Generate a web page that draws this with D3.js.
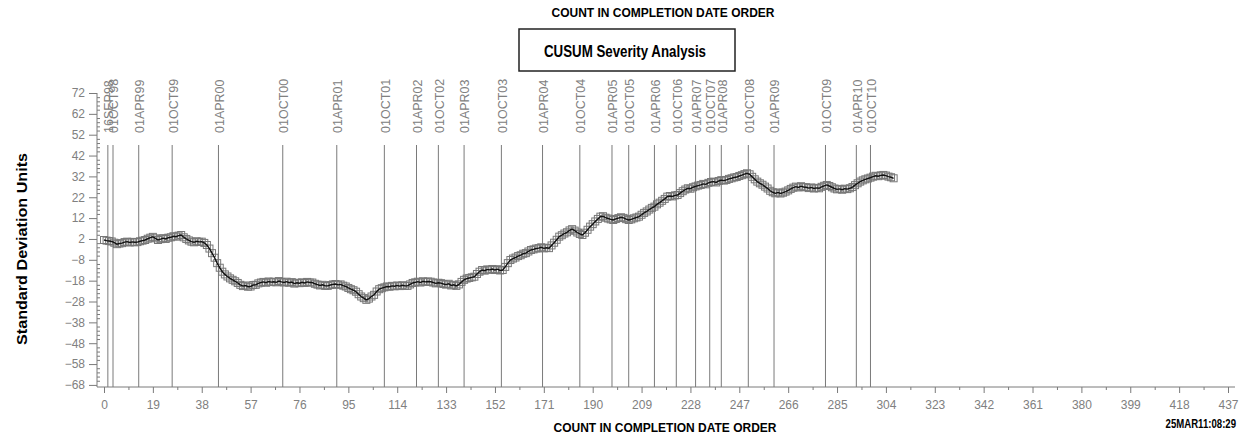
<!DOCTYPE html>
<html>
<head>
<meta charset="utf-8">
<script src="https://cdn.jsdelivr.net/npm/d3@7"></script>
<style>
body { margin: 0; background: #fff; }
</style>
</head>
<body>
<div id="chart"></div>
<script>
//Data: CUSUM value for each count (count = index)
var cusum = [
  1.5, 1.2, 1.0, 0.8, 0.2, -0.5, -0.2, 0.0, 0.5, 0.7,
  0.3, 0.6, 0.4, 0.5, 0.9, 1.2, 1.5, 2.1, 2.6, 3.0,
  2.3, 1.5, 1.9, 2.4, 2.0, 2.6, 2.8, 3.3, 3.1, 3.6,
  3.9, 2.8, 2.0, 1.3, 0.7, 0.4, 0.9, 0.6, 0.7, 0.1,
  -0.9, -2.6, -4.8, -7.0, -9.6, -11.8, -13.7, -15.0, -16.0, -16.9,
  -17.6, -18.3, -19.1, -20.0, -20.6, -20.3, -20.9, -20.8, -20.1, -20.0,
  -19.3, -18.9, -18.6, -19.0, -18.4, -18.7, -18.5, -18.8, -18.2, -18.6,
  -18.9, -18.5, -19.0, -18.7, -19.4, -19.0, -19.2, -18.8, -19.1, -18.6,
  -18.9, -18.9, -19.5, -19.9, -20.3, -20.0, -20.5, -20.5, -20.1, -19.8,
  -19.6, -20.0, -19.8, -20.4, -20.8, -21.5, -22.1, -22.6, -23.3, -24.5,
  -25.6, -26.4, -27.2, -26.6, -25.6, -24.8, -23.2, -22.1, -21.6, -21.2,
  -20.8, -20.9, -20.5, -20.7, -20.3, -20.6, -20.2, -20.5, -20.5, -19.8,
  -19.1, -18.8, -18.5, -18.9, -18.3, -18.6, -18.4, -18.5, -18.9, -19.3,
  -19.0, -19.2, -19.6, -19.9, -19.5, -20.3, -20.0, -20.5, -19.8, -18.6,
  -17.6, -17.0, -16.7, -16.4, -16.1, -14.8, -13.7, -12.9, -13.2, -12.6,
  -12.8, -12.4, -12.9, -12.5, -13.1, -12.9, -11.4, -9.6, -8.1, -7.4,
  -6.9, -6.2, -5.8, -5.1, -4.8, -4.0, -3.3, -3.0, -2.6, -2.4,
  -2.0, -2.5, -2.2, -2.4, -1.1, 0.2, 1.6, 3.1, 3.8, 4.6,
  5.2, 6.1, 6.7, 6.0, 5.1, 4.4, 3.9, 5.0, 6.4, 7.9,
  9.1, 10.4, 11.6, 12.7, 12.9, 12.2, 11.8, 11.4, 11.1, 11.6,
  12.0, 12.4, 12.1, 11.5, 11.1, 11.4, 11.9, 12.3, 12.7, 13.6,
  14.5, 15.2, 16.1, 16.9, 17.5, 18.6, 19.4, 20.3, 21.2, 22.3,
  22.6, 22.4, 22.9, 23.1, 24.0, 24.9, 25.7, 26.3, 26.1, 26.8,
  27.2, 27.6, 27.9, 28.4, 28.2, 28.9, 29.3, 29.5, 29.1, 29.8,
  30.2, 30.0, 30.3, 30.8, 31.1, 31.5, 31.7, 32.2, 32.6, 33.1,
  33.5, 33.0, 31.8, 30.6, 29.5, 28.7, 28.0, 27.1, 26.2, 25.1,
  24.4, 23.9, 24.3, 23.8, 24.2, 24.7, 25.3, 26.0, 26.6, 27.1,
  26.7, 27.3, 26.9, 26.8, 26.4, 26.7, 26.2, 26.5, 26.3, 27.0,
  27.5, 27.9, 27.4, 26.8, 26.2, 25.8, 26.0, 25.6, 26.1, 25.9,
  26.3, 26.9, 27.8, 28.7, 29.5, 30.1, 30.6, 31.0, 31.4, 31.9,
  32.3, 32.1, 32.5, 32.7, 32.4, 31.9, 31.6, 31.1
];

//Date reference lines
var refLabels = ["16SEP98", "01OCT98", "01APR99", "01OCT99", "01APR00", "01OCT00", "01APR01", "01OCT01",
                 "01APR02", "01OCT02", "01APR03", "01OCT03", "01APR04", "01OCT04", "01APR05", "01OCT05",
                 "01APR06", "01OCT06", "01APR07", "01OCT07", "01APR08", "01OCT08", "01APR09", "01OCT09",
                 "01APR10", "01OCT10"];
var refCounts = [1.5, 3.5, 13.5, 26.5, 44.5, 69.5, 90.5, 109, 121.5, 130, 140, 154.5, 170.5, 185,
                 197.5, 204, 214, 222.5, 230, 235.5, 240, 250.5, 260.5, 280.5, 292.5, 298];

//Tick values
var xTicks = [0, 19, 38, 57, 76, 95, 114, 133, 152, 171, 190, 209, 228, 247, 266, 285, 304, 323, 342, 361, 380, 399, 418, 437];
var yTicks = [-68, -58, -48, -38, -28, -18, -8, 2, 12, 22, 32, 42, 52, 62, 72];

var width = 1250;
var height = 441;
var axisX = 97, axisY = 387;
var gray = "#7a7a7a";
var labelFont = "'Liberation Sans', Arial, sans-serif";

var svg = d3.select("#chart").append("svg")
            .attr("width", width)
            .attr("height", height);

var xScale = d3.scaleLinear().domain([0, 437]).range([104, 1228]);
var yScale = d3.scaleLinear().domain([-69, 72]).range([axisY, 93]);

//x axis (major + minor ticks)
var xMinor = xTicks.slice(0, -1).map(function(d){ return d + 9.5; });
var xAxisGroup = svg.append("g").attr("transform", "translate(0," + axisY + ")");
xAxisGroup.call(d3.axisBottom(xScale).tickValues(xTicks).tickSize(6).tickSizeOuter(0).tickPadding(7));
var xMinorGroup = svg.append("g").attr("transform", "translate(0," + axisY + ")");
xMinorGroup.call(d3.axisBottom(xScale).tickValues(xMinor).tickSize(3).tickFormat(""));

//y axis (major + minor ticks)
var yMinor = d3.range(-68, 72, 2).filter(function(d){ return yTicks.indexOf(d) < 0; });
var yAxisGroup = svg.append("g").attr("transform", "translate(" + axisX + ",0)");
yAxisGroup.call(d3.axisLeft(yScale).tickValues(yTicks).tickSize(8).tickSizeOuter(0).tickPadding(4));
var yMinorGroup = svg.append("g").attr("transform", "translate(" + axisX + ",0)");
yMinorGroup.call(d3.axisRight(yScale).tickValues(yMinor).tickSize(3).tickFormat(""));

svg.selectAll(".domain").remove();
svg.selectAll(".tick line").attr("stroke", gray);
svg.selectAll(".tick text")
   .attr("fill", "#808080")
   .style("font-family", labelFont)
   .style("font-size", "12px");

//axis lines
svg.append("line").attr("x1", axisX).attr("x2", 1235).attr("y1", axisY).attr("y2", axisY).attr("stroke", gray);
svg.append("line").attr("x1", axisX).attr("x2", axisX).attr("y1", yScale(72)).attr("y2", axisY).attr("stroke", gray);

//reference lines and rotated date labels
var refs = svg.append("g").selectAll("g").data(refCounts).enter().append("g");
refs.append("line")
    .attr("x1", function(d){ return xScale(d); })
    .attr("x2", function(d){ return xScale(d); })
    .attr("y1", 145).attr("y2", axisY)
    .attr("stroke", gray).attr("stroke-width", 1);
refs.append("text")
    .attr("transform", function(d){ return "translate(" + (xScale(d) + 1) + ",133) rotate(-90)"; })
    .attr("dy", "0.35em")
    .attr("fill", "#808080")
    .style("font-family", labelFont)
    .style("font-size", "12.5px")
    .text(function(d, i){ return refLabels[i]; });

//markers and line
svg.append("g").selectAll("rect").data(cusum).enter().append("rect")
   .attr("x", function(d, i){ return xScale(i) - 3.5; })
   .attr("y", function(d){ return yScale(d) - 3.5; })
   .attr("width", 7).attr("height", 7)
   .attr("fill", "none").attr("stroke", "#777").attr("stroke-width", 1);

var line = d3.line().x(function(d, i){ return xScale(i); }).y(function(d){ return yScale(d); });
svg.append("path").datum(cusum)
   .attr("d", line)
   .attr("fill", "none").attr("stroke", "#111").attr("stroke-width", 1.4);

//titles
var boldFont = "'Liberation Sans', Arial, sans-serif";
svg.append("text").attr("x", 663).attr("y", 17).attr("text-anchor", "middle")
   .attr("textLength", 223).attr("lengthAdjust", "spacingAndGlyphs")
   .style("font-family", boldFont).style("font-weight", "bold").style("font-size", "13px")
   .text("COUNT IN COMPLETION DATE ORDER");

svg.append("rect").attr("x", 519).attr("y", 29).attr("width", 216).attr("height", 42)
   .attr("fill", "none").attr("stroke", "#222").attr("stroke-width", 1.5);
svg.append("text").attr("x", 625).attr("y", 57).attr("text-anchor", "middle")
   .attr("textLength", 162).attr("lengthAdjust", "spacingAndGlyphs")
   .style("font-family", boldFont).style("font-weight", "bold").style("font-size", "16px")
   .text("CUSUM Severity Analysis");

svg.append("text").attr("transform", "translate(27,249) rotate(-90)").attr("text-anchor", "middle")
   .attr("textLength", 192).attr("lengthAdjust", "spacingAndGlyphs")
   .style("font-family", boldFont).style("font-weight", "bold").style("font-size", "15px")
   .text("Standard Deviation Units");

svg.append("text").attr("x", 665).attr("y", 432).attr("text-anchor", "middle")
   .attr("textLength", 223).attr("lengthAdjust", "spacingAndGlyphs")
   .style("font-family", boldFont).style("font-weight", "bold").style("font-size", "13px")
   .text("COUNT IN COMPLETION DATE ORDER");

//timestamp, squeezed horizontally
svg.append("text").attr("transform", "translate(1236,428) scale(0.8,1)").attr("text-anchor", "end")
   .style("font-family", boldFont).style("font-weight", "bold").style("font-size", "12px")
   .text("25MAR11:08:29");
</script>
</body>
</html>
